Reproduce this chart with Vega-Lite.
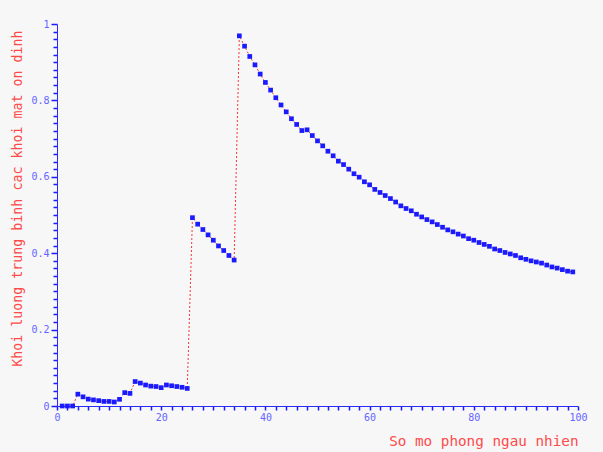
{
  "$schema": "https://vega.github.io/schema/vega-lite/v6.json",
  "width": 521,
  "height": 382,
  "autosize": {"type": "none"},
  "padding": {"left": 57, "top": 24, "right": 25, "bottom": 46},
  "background": "#f7f7f7",
  "config": {
    "view": {"stroke": null},
    "axis": {"grid": false, "labelFont": "DejaVu Sans Mono", "titleFont": "DejaVu Sans Mono", "titleFontWeight": "normal", "domainColor": "#2a2aff", "tickColor": "#1a1aff", "labelColor": "#6464ff", "titleColor": "#ff4a4a", "labelFontSize": 10, "labelFlush": false}
  },
  "data": {"values": [
    {"n": 1, "v": 0}, {"n": 2, "v": 0}, {"n": 3, "v": 0}, {"n": 4, "v": 0.031}, {"n": 5, "v": 0.024},
    {"n": 6, "v": 0.018}, {"n": 7, "v": 0.016}, {"n": 8, "v": 0.014}, {"n": 9, "v": 0.012}, {"n": 10, "v": 0.012},
    {"n": 11, "v": 0.0105}, {"n": 12, "v": 0.0175}, {"n": 13, "v": 0.035}, {"n": 14, "v": 0.033}, {"n": 15, "v": 0.064},
    {"n": 16, "v": 0.06}, {"n": 17, "v": 0.055}, {"n": 18, "v": 0.052}, {"n": 19, "v": 0.051}, {"n": 20, "v": 0.048},
    {"n": 21, "v": 0.055}, {"n": 22, "v": 0.053}, {"n": 23, "v": 0.051}, {"n": 24, "v": 0.049}, {"n": 25, "v": 0.046},
    {"n": 26, "v": 0.493}, {"n": 27, "v": 0.476}, {"n": 28, "v": 0.462}, {"n": 29, "v": 0.448}, {"n": 30, "v": 0.434},
    {"n": 31, "v": 0.419}, {"n": 32, "v": 0.407}, {"n": 33, "v": 0.394}, {"n": 34, "v": 0.382}, {"n": 35, "v": 0.969},
    {"n": 36, "v": 0.942}, {"n": 37, "v": 0.915}, {"n": 38, "v": 0.893}, {"n": 39, "v": 0.869}, {"n": 40, "v": 0.847},
    {"n": 41, "v": 0.827}, {"n": 42, "v": 0.807}, {"n": 43, "v": 0.788}, {"n": 44, "v": 0.77}, {"n": 45, "v": 0.752},
    {"n": 46, "v": 0.737}, {"n": 47, "v": 0.721}, {"n": 48, "v": 0.723}, {"n": 49, "v": 0.708}, {"n": 50, "v": 0.694},
    {"n": 51, "v": 0.681}, {"n": 52, "v": 0.667}, {"n": 53, "v": 0.655}, {"n": 54, "v": 0.641}, {"n": 55, "v": 0.632},
    {"n": 56, "v": 0.62}, {"n": 57, "v": 0.608}, {"n": 58, "v": 0.599}, {"n": 59, "v": 0.587}, {"n": 60, "v": 0.579},
    {"n": 61, "v": 0.567}, {"n": 62, "v": 0.559}, {"n": 63, "v": 0.551}, {"n": 64, "v": 0.543}, {"n": 65, "v": 0.534},
    {"n": 66, "v": 0.524}, {"n": 67, "v": 0.517}, {"n": 68, "v": 0.511}, {"n": 69, "v": 0.502}, {"n": 70, "v": 0.495},
    {"n": 71, "v": 0.488}, {"n": 72, "v": 0.482}, {"n": 73, "v": 0.475}, {"n": 74, "v": 0.468}, {"n": 75, "v": 0.461},
    {"n": 76, "v": 0.456}, {"n": 77, "v": 0.45}, {"n": 78, "v": 0.445}, {"n": 79, "v": 0.438}, {"n": 80, "v": 0.434},
    {"n": 81, "v": 0.428}, {"n": 82, "v": 0.423}, {"n": 83, "v": 0.418}, {"n": 84, "v": 0.411}, {"n": 85, "v": 0.407},
    {"n": 86, "v": 0.402}, {"n": 87, "v": 0.398}, {"n": 88, "v": 0.394}, {"n": 89, "v": 0.388}, {"n": 90, "v": 0.384},
    {"n": 91, "v": 0.38}, {"n": 92, "v": 0.377}, {"n": 93, "v": 0.374}, {"n": 94, "v": 0.369}, {"n": 95, "v": 0.364},
    {"n": 96, "v": 0.361}, {"n": 97, "v": 0.357}, {"n": 98, "v": 0.353}, {"n": 99, "v": 0.351}
  ]},
  "encoding": {
    "x": {"field": "n", "type": "quantitative", "scale": {"domain": [0, 100], "nice": false},
      "axis": {"orient": "bottom", "values": [0,2,4,6,8,10,12,14,16,18,20,22,24,26,28,30,32,34,36,38,40,42,44,46,48,50,52,54,56,58,60,62,64,66,68,70,72,74,76,78,80,82,84,86,88,90,92,94,96,98,100],
        "labelExpr": "round(datum.value) % 20 == 0 ? datum.label : ''", "ticks": true, "tickSize": 4, "tickWidth": 1.5, "labelPadding": 2, "title": "So mo phong ngau nhien", "titleFontSize": 14.3, "titleAnchor": "end", "titlePadding": 12}},
    "y": {"field": "v", "type": "quantitative", "scale": {"domain": [0, 1], "nice": false},
      "axis": {"orient": "left", "values": [0,0.02,0.04,0.06,0.08,0.1,0.12,0.14,0.16,0.18,0.2,0.22,0.24,0.26,0.28,0.3,0.32,0.34,0.36,0.38,0.4,0.42,0.44,0.46,0.48,0.5,0.52,0.54,0.56,0.58,0.6,0.62,0.64,0.66,0.68,0.7,0.72,0.74,0.76,0.78,0.8,0.82,0.84,0.86,0.88,0.9,0.92,0.94,0.96,0.98,1],
        "format": "~g", "labelExpr": "round(datum.value * 50) % 10 == 0 ? datum.label : ''",
        "ticks": true, "tickWidth": 1.5,
        "tickSize": {"condition": {"test": "round(datum.value * 50) % 10 == 0", "value": 6}, "value": 4},
        "labelPadding": 2, "title": "Khoi luong trung binh cac khoi mat on dinh", "titleFontSize": 13.3, "titleAnchor": "end", "titleY": 6, "titlePadding": 6}}
  },
  "layer": [
    {"mark": {"type": "line", "color": "#ff3333", "strokeWidth": 1, "strokeDash": [2, 2]}},
    {"mark": {"type": "point", "shape": "square", "filled": true, "color": "#1a1aff", "size": 22, "opacity": 1}}
  ]
}
